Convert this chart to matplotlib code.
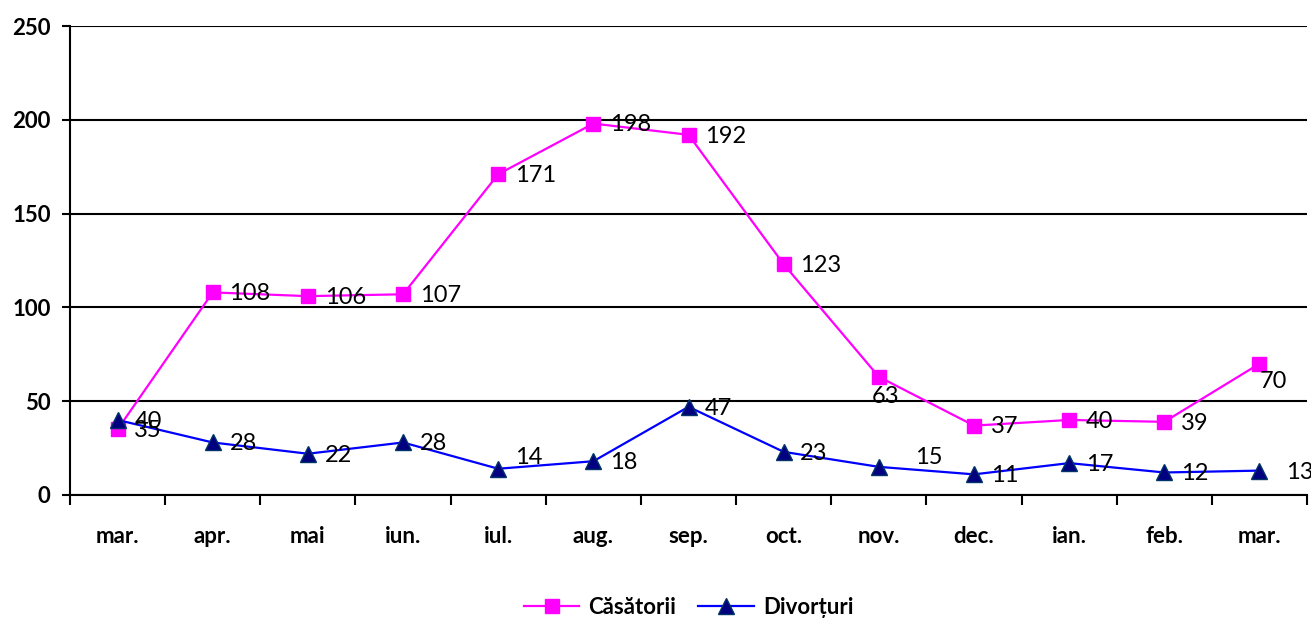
import matplotlib
matplotlib.use("Agg")
import matplotlib.pyplot as plt
import numpy as np

MONTHS = ["mar.", "apr.", "mai", "iun.", "iul.", "aug.", "sep.", "oct.",
          "nov.", "dec.", "ian.", "feb.", "mar."]
CASATORII = [35, 108, 106, 107, 171, 198, 192, 123, 63, 37, 40, 39, 70]
DIVORTURI = [40, 28, 22, 28, 14, 18, 47, 23, 15, 11, 17, 12, 13]

# label offsets in points (dx, dy) for each data label
CAS_OFFSETS = {8: (-5, -14), 12: (0, -13)}
DIV_OFFSETS = {4: (12, 8), 8: (26, 7), 12: (19, -1)}

plt.rcParams["font.family"] = ["Lato", "DejaVu Sans"]

fig = plt.figure(figsize=(13.11, 6.21), dpi=100)
ax = fig.add_axes([0.0534, 0.2029, 0.9436, 0.7552])

x = np.arange(len(MONTHS))
ax.plot(x, CASATORII, color="#FF00FF", lw=1.6, marker="s", ms=10,
        mfc="#FF00FF", mec="#FF00FF", label="Căsătorii", zorder=3)
ax.plot(x, DIVORTURI, color="#0000FF", lw=1.6, marker="^", ms=11,
        mfc="#000080", mec="#003366", label="Divorțuri", zorder=4)

for i, v in enumerate(CASATORII):
    dx, dy = CAS_OFFSETS.get(i, (12, -1))
    ax.annotate(str(v), (x[i], v), xytext=(dx, dy), textcoords="offset points",
                ha="left", va="center", fontsize=17, zorder=5)
for i, v in enumerate(DIVORTURI):
    dx, dy = DIV_OFFSETS.get(i, (12, -1))
    ax.annotate(str(v), (x[i], v), xytext=(dx, dy), textcoords="offset points",
                ha="left", va="center", fontsize=17, zorder=5)

ax.set_xlim(-0.5, len(MONTHS) - 0.5)
ax.set_ylim(0, 250)
ax.set_yticks(np.arange(0, 251, 50))
ax.yaxis.grid(True, color="black", lw=1.5)
ax.set_axisbelow(True)

ax.set_xticks(x)
ax.set_xticklabels(MONTHS, fontsize=16, fontweight="bold")
ax.set_xticks(np.arange(-0.5, len(MONTHS)), minor=True)
ax.tick_params(axis="x", which="major", length=0, pad=22)
ax.tick_params(axis="x", which="minor", length=7, width=1.5, direction="out")
ax.tick_params(axis="y", length=6, width=1.5, labelsize=16, pad=8)
for lab in ax.get_yticklabels():
    lab.set_fontweight("bold")

for side in ["top", "right"]:
    ax.spines[side].set_visible(False)
for side in ["left", "bottom"]:
    ax.spines[side].set_linewidth(1.5)

ax.legend(loc="center", bbox_to_anchor=(0.5, -0.24), ncol=2, frameon=False,
          prop={"weight": "bold", "size": 16}, handlelength=2.5, columnspacing=1.0,
          handletextpad=0.4)

fig.savefig("out.png", dpi=100)
